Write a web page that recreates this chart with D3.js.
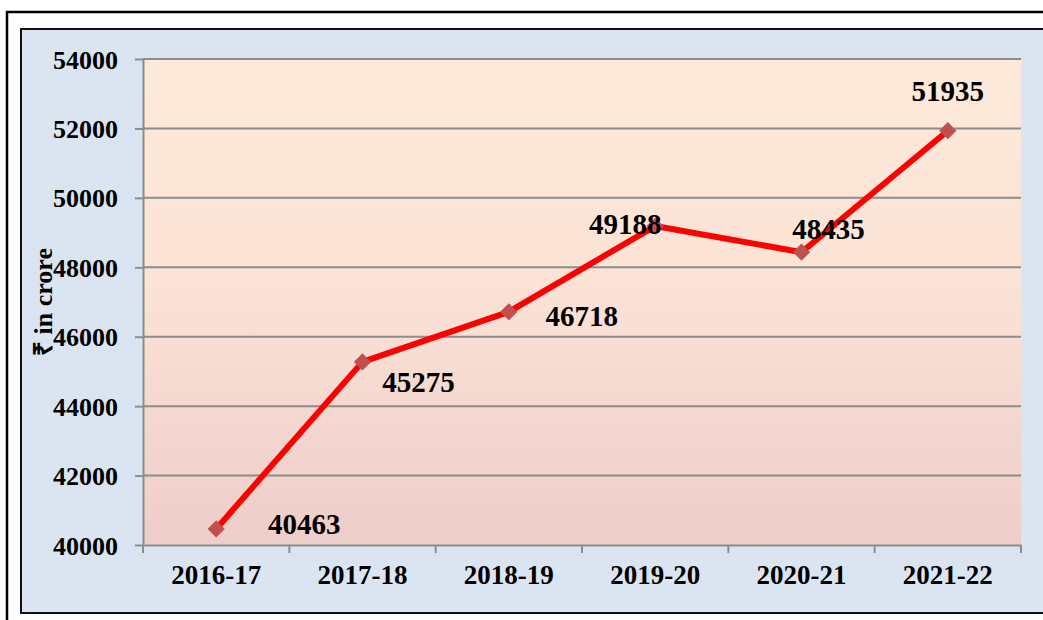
<!DOCTYPE html>
<meta charset="utf-8">
<style>
body { margin: 0; background: #fff; }
svg { display: block; font-family: "Liberation Serif", "Times New Roman", serif; font-weight: bold; }
.grid line { stroke: #8c8c8c; stroke-width: 2px; }
.axis path, .axis line { stroke: #8c8c8c; stroke-width: 2px; }
.axis text { fill: #000; font-family: "Liberation Serif", "Times New Roman", serif; font-weight: bold; }
.line { fill: none; stroke: #ff0000; stroke-width: 6px; stroke-linejoin: round; }
</style>
<svg width="1043" height="620"></svg>
<script src="https://cdn.jsdelivr.net/npm/d3@7"></script>
<script>

var years = ["2016-17", "2017-18", "2018-19", "2019-20", "2020-21", "2021-22"];
var amounts = [40463, 45275, 46718, 49188, 48435, 51935];
var yTicks = [40000, 42000, 44000, 46000, 48000, 50000, 52000, 54000];

// where each value label sits relative to its marker
var labelOffsets = [[88, 5], [56, 30], [73, 14], [-30, 8], [27, -13], [0, -30]];

var svg = d3.select("svg"),
    margin = {top: 59, right: 22, bottom: 75, left: 143},
    width = 1021 - margin.left,
    height = 545 - margin.top;

// frames
svg.append("rect")
    .attr("x", 7).attr("y", 12).attr("width", 1060).attr("height", 640)
    .attr("fill", "#fff").attr("stroke", "#000").attr("stroke-width", 2.5);
svg.append("rect")
    .attr("x", 21).attr("y", 29).attr("width", 1040).attr("height", 584)
    .attr("fill", "#dbe5f1").attr("stroke", "#111").attr("stroke-width", 2);

var grad = svg.append("defs").append("linearGradient")
    .attr("id", "bg").attr("x1", 0).attr("y1", 0).attr("x2", 0).attr("y2", 1);
grad.append("stop").attr("offset", "0%").attr("stop-color", "#fde9d9");
grad.append("stop").attr("offset", "45%").attr("stop-color", "#fbe3d6");
grad.append("stop").attr("offset", "100%").attr("stop-color", "#eecdca");

var g = svg.append("g").attr("transform", "translate(" + margin.left + "," + margin.top + ")");

var x = d3.scaleBand().domain(years).range([0, width]),
    y = d3.scaleLinear().domain([40000, 54000]).range([height, 0]);

g.append("rect")
    .attr("width", width).attr("height", height)
    .attr("fill", "url(#bg)");

g.append("g")
    .attr("class", "grid")
  .selectAll("line")
  .data(yTicks.slice(1))
  .enter().append("line")
    .attr("x1", 0).attr("x2", width)
    .attr("y1", function(d) { return y(d); })
    .attr("y2", function(d) { return y(d); });

var yAxis = g.append("g")
    .attr("class", "axis axis--y")
    .call(d3.axisLeft(y).tickValues(yTicks).tickFormat(d3.format("d"))
      .tickSize(8).tickSizeOuter(0).tickPadding(17));
yAxis.selectAll("text").style("font-size", "26px").attr("dy", "0.35em");

var xAxis = g.append("g")
    .attr("class", "axis axis--x")
    .attr("transform", "translate(0," + height + ")")
    .call(d3.axisBottom(x).tickSize(0).tickSizeOuter(0).tickPadding(20));
xAxis.selectAll("text").style("font-size", "27px").attr("dy", "0.71em");

// tick marks on the category boundaries
xAxis.selectAll(".bound")
  .data(d3.range(years.length + 1))
  .enter().append("line")
    .attr("class", "bound")
    .attr("x1", function(i) { return i * x.step(); })
    .attr("x2", function(i) { return i * x.step(); })
    .attr("y1", 0).attr("y2", 8);

g.append("text")
    .attr("transform", "translate(-91," + y(47000) + ") rotate(-90)")
    .attr("text-anchor", "middle")
    .style("font-size", "26px")
    .text("₹ in crore");

var cx = function(i) { return x(years[i]) + x.bandwidth() / 2; };

var line = d3.line()
    .x(function(d, i) { return cx(i); })
    .y(function(d) { return y(d); });

g.append("path")
    .datum(amounts)
    .attr("class", "line")
    .attr("d", line);

g.selectAll(".marker")
  .data(amounts)
  .enter().append("path")
    .attr("class", "marker")
    .attr("d", d3.symbol().type(d3.symbolDiamond2).size(190))
    .attr("transform", function(d, i) { return "translate(" + cx(i) + "," + y(d) + ")"; })
    .attr("fill", "#c0504d");

g.selectAll(".value")
  .data(amounts)
  .enter().append("text")
    .attr("class", "value")
    .attr("text-anchor", "middle")
    .attr("x", function(d, i) { return cx(i) + labelOffsets[i][0]; })
    .attr("y", function(d, i) { return y(d) + labelOffsets[i][1]; })
    .style("font-size", "29px")
    .text(function(d) { return d; });

</script>
